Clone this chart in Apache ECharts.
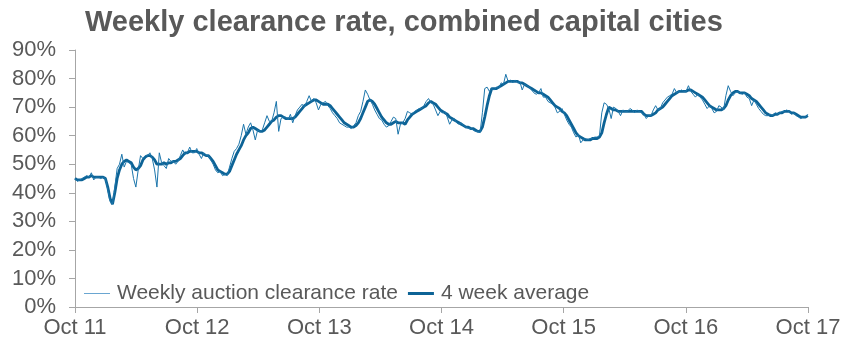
<!DOCTYPE html>
<html>
<head>
<meta charset="utf-8">
<script src="https://cdn.jsdelivr.net/npm/echarts@6/dist/echarts.min.js"></script>
<style>
html,body{margin:0;padding:0;background:#fff;}
#chart{width:858px;height:352px;}
</style>
</head>
<body>
<div id="chart"></div>
<script>
// Year tick labels (x axis, one per October)
var yearLabels = ['Oct 11','Oct 12','Oct 13','Oct 14','Oct 15','Oct 16','Oct 17'];
var seriesNames = ['Weekly auction clearance rate','4 week average'];

// Weekly auction clearance rate (%), one value per week from Oct 2011
var weeklyRate = [
45,44,44.5,45,45.5,46,45.5,47,44.5,45.5,45.5,45,45.5,45,41,37,36,42,48.5,50,
53.5,49,51,50.5,50,45,42,48,53,52,53,53,54,52,48,42,54,50.5,49.5,48.5,
52,51,51,50,51,53,55,53.5,54,56,54,54,55.5,53.5,52,54,53,53,51.5,50,
48,47,47.5,46,46.5,46,49,52,54.5,55.5,57,60,64,60.5,63,64.5,62,58.5,62,61.5,
62,64.5,67,65,65,68,72,61.5,66,66.5,66.5,65.5,67.5,64.5,67,69,70,71,70,72,
74,72,73,71.5,69,71,71.5,72,70.5,69.5,68,67,66,64.5,64,63.5,63,63,62.5,63.5,
64.5,67,68.5,72,76,74.5,72.5,71,69,67.5,66,65.5,64,63,63.5,65,66.5,66,60.5,64,
64.5,66,68.5,68,67.5,68.5,69,69.5,69.5,70.5,72,73,71.5,71,69,67,68.5,68,68.5,66.5,
64,65.5,66,64.5,64,64.5,63.5,63,62.5,62.5,62,61.5,61.5,61,68,76.5,77,75.5,76.5,76,
77,76.5,78.5,78,81.5,79,79.5,78.5,79.5,78.5,79,76,78,77.5,77,76,75,74.5,75,76.5,
73.5,73.5,72,71.5,71,70,68,68.5,69.5,67.5,65.5,64,63,61,59.5,60.5,57.5,58.5,59,58.5,
59,59,59.5,59.5,60,68,71.5,71,69.5,66,70,69.5,68.5,67,69,68.5,68.5,69.5,69,68,
69,68.5,68,67.5,66,67,67,69,70.5,69,69.5,71.5,72.5,73.5,74,74.5,76.5,75,75.5,76,
75.5,75.5,77.5,75.5,74.5,73.5,74.5,73.5,72.5,71,69.5,70.5,69.5,68,68.5,70.5,70,69,74,77.5,
75.5,74,75,75.5,75,74.5,75,73.5,73,70.5,72.5,71,69.5,68.5,67.5,67,67,67.5,67,68,
67.5,68,68.5,68.5,69,68.5,67.5,68,67,66.5,66,66.5,66.5,67.5
];

// 4 week average (%), one value per week from Oct 2011
var avgRate = [
45,44.5,44.5,44.5,45,45.5,45.5,46,45.5,45.5,45.5,45.5,45.5,45,42,38,36,40,45,48,
50,51,51.5,51,50.5,49,48,48.5,49.5,51.5,52.5,53,53,52.5,51.5,50,50,50,50.5,50,
50.5,50.5,51,51,51.5,52,53,54,54,54.5,54.5,54.5,54.5,54,54,53.5,53,53,52,51,
49.5,48,47.5,47,46.5,46.5,47.5,49.5,51.5,53.5,55,56.5,58.5,60,61,62.5,63,62.5,62,61.5,
61.5,62,63,64,65,65.5,66.5,67,67,66.5,66,66,66,66,66.5,67.5,68.5,69.5,70.5,71,
71.5,72,72.5,72.5,72,71.5,71,71,71,70.5,69.5,68.5,67.5,66.5,65.5,64.5,64,63.5,63,63,
63.5,64.5,66,68,70,72,72.5,72,71,69.5,68,66.5,65.5,64.5,64,64,64.5,65,64.5,64.5,
64.5,64,65.5,66.5,67.5,68,68.5,69,69.5,70,70.5,71.5,72,71.5,71,70,69,68.5,68,67.5,
66.5,66,65.5,65,64.5,64,63.5,63,63,62.5,62.5,62,61.5,61.5,63,66.5,70.5,74,76.5,76.5,
76.5,77,77.5,78,78.5,79,79,79,79,79,78.5,78.5,78,77.5,77,76.5,76,75.5,75,75,
74.5,74,73.5,72.5,71.5,70.5,70,69.5,68.5,68,67,65.5,64,62.5,61,60,59.5,59,58.5,58.5,
58.5,59,59,59,59.5,61,64.5,67.5,70,69.5,69,69,68.5,68.5,68.5,68.5,68.5,68.5,68.5,68.5,
68.5,68.5,68.5,67.5,67,67,67,67.5,68,69,69.5,70,71,72,73,74,74.5,75,75.5,75.5,
75.5,75.5,76,76,75.5,75,74.5,74,73.5,72.5,71.5,70.5,70,69.5,69,69,69,69.5,70.5,72.5,
74,75,75.5,75.5,75,75,75,74.5,74,73,72.5,72,71,70,69,68,67.5,67,67,67.5,
67.5,68,68,68.5,68.5,68.5,68,68,67.5,67,66.5,66.5,66.5,67
];

function toPairs(values){
  var out = [];
  for (var i = 0; i < values.length; i++) {
    out.push([i * 7 / 365.25, values[i]]);
  }
  return out;
}

var chart = echarts.init(document.getElementById('chart'), null, {renderer:'canvas'});
var textColor = '#595959';
var axisColor = '#a6a6a6';
var fontFam = '"Liberation Sans", Arial, sans-serif';

chart.setOption({
  animation:false,
  backgroundColor:'#ffffff',
  title:{
    text:'Weekly clearance rate, combined capital cities',
    left:80, top:3,
    textStyle:{fontFamily:fontFam, fontSize:29, fontWeight:'bold', color:textColor}
  },
  legend:{
    left:79, top:278,
    itemWidth:26, itemHeight:10, itemGap:10,
    textStyle:{fontFamily:fontFam, fontSize:21, color:textColor, padding:[0,0,0,2]},
    data:[
      {name:seriesNames[0], icon:'path://M0,4.5 L26,4.5 L26,5.5 L0,5.5 Z', itemStyle:{color:'#6aa6d1'}},
      {name:seriesNames[1], icon:'path://M0,3.5 L26,3.5 L26,6.5 L0,6.5 Z', itemStyle:{color:'#0d6396'}}
    ]
  },
  grid:{left:75, right:50, top:50, bottom:45, containLabel:false},
  xAxis:{
    type:'value', min:0, max:6, interval:1,
    axisLine:{show:true, lineStyle:{color:axisColor, width:1}},
    axisTick:{show:true, length:6, lineStyle:{color:axisColor}},
    splitLine:{show:false},
    axisLabel:{
      fontFamily:fontFam, fontSize:22, color:textColor, margin:10,
      formatter:function(v){ return yearLabels[Math.round(v)] || ''; }
    }
  },
  yAxis:{
    type:'value', min:0, max:90, interval:10,
    axisLine:{show:true, lineStyle:{color:axisColor, width:1}},
    axisTick:{show:true, length:6, lineStyle:{color:axisColor}},
    splitLine:{show:false},
    axisLabel:{fontFamily:fontFam, fontSize:22, color:textColor, margin:19, formatter:'{value}%'}
  },
  series:[
    {
      name:seriesNames[0], type:'line', data:toPairs(weeklyRate),
      showSymbol:false, symbol:'none', smooth:false,
      lineStyle:{color:'#1b75ab', width:1},
      itemStyle:{color:'#6aa6d1'}, z:3
    },
    {
      name:seriesNames[1], type:'line', data:toPairs(avgRate),
      showSymbol:false, symbol:'none', smooth:false,
      lineStyle:{color:'#0d6396', width:2.8},
      itemStyle:{color:'#0d6396'}, z:2
    }
  ]
});
</script>
</body>
</html>
